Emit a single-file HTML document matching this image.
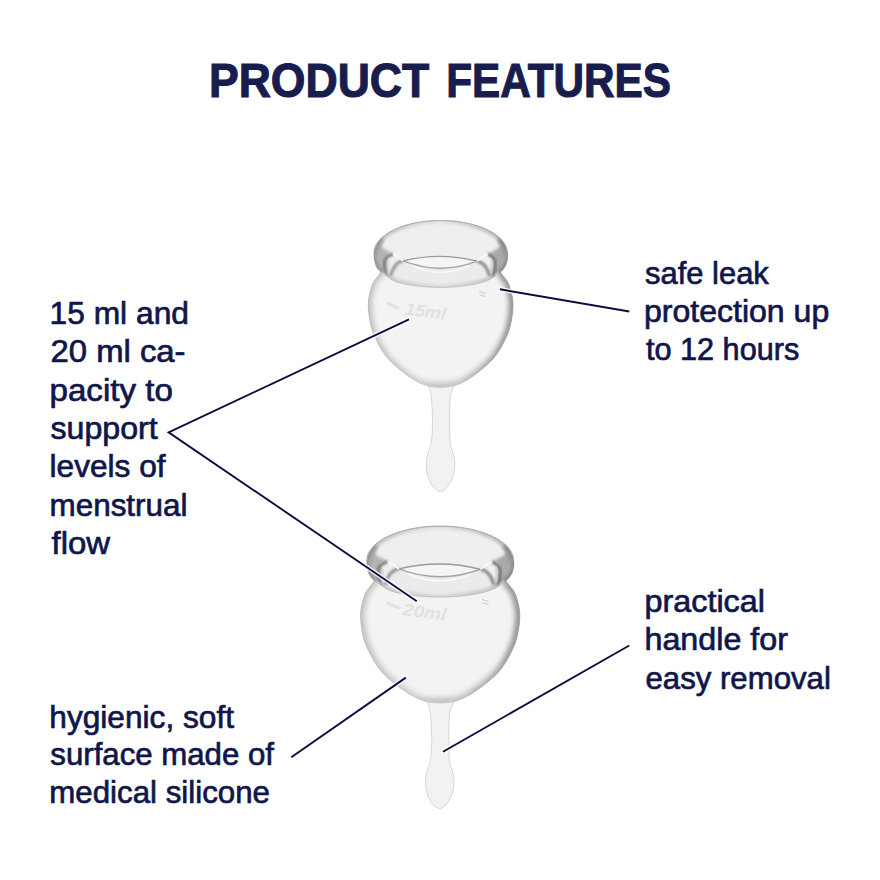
<!DOCTYPE html>
<html><head><meta charset="utf-8"><style>
html,body{margin:0;padding:0;background:#fff;width:880px;height:880px;overflow:hidden}
svg{display:block}
text{font-family:"Liberation Sans",sans-serif;fill:#10164a;stroke:#10164a;stroke-width:0.7px}
</style></head><body>
<svg width="880" height="880" viewBox="0 0 880 880">
<rect width="880" height="880" fill="#fff"/>
<defs>
<filter id="bl05" x="-20%" y="-50%" width="140%" height="200%"><feGaussianBlur stdDeviation="0.5"/></filter>
<filter id="bl07" x="-50%" y="-20%" width="200%" height="140%"><feGaussianBlur stdDeviation="0.7"/></filter>
<filter id="bl1" x="-20%" y="-20%" width="140%" height="140%"><feGaussianBlur stdDeviation="1"/></filter>
<filter id="bl15" x="-50%" y="-20%" width="200%" height="140%"><feGaussianBlur stdDeviation="1.5"/></filter>
<filter id="bl2" x="-20%" y="-20%" width="140%" height="140%"><feGaussianBlur stdDeviation="2"/></filter>
<filter id="bl3" x="-50%" y="-50%" width="200%" height="200%"><feGaussianBlur stdDeviation="3"/></filter>
<linearGradient id="egB" gradientUnits="userSpaceOnUse" x1="368" x2="513" y1="0" y2="0">
<stop offset="0" stop-color="#d2d2d2"/><stop offset="0.45" stop-color="#e2e2e2"/><stop offset="0.8" stop-color="#c8c8c8"/><stop offset="1" stop-color="#a4a4a4"/></linearGradient>
<linearGradient id="egB2" gradientUnits="userSpaceOnUse" x1="368" x2="513" y1="0" y2="0">
<stop offset="0" stop-color="#c6c6c6"/><stop offset="0.5" stop-color="#d6d6d6"/><stop offset="1" stop-color="#9a9a9a"/></linearGradient>
<linearGradient id="egL" gradientUnits="userSpaceOnUse" x1="368" x2="513" y1="0" y2="0">
<stop offset="0" stop-color="#b8b8b8"/><stop offset="0.5" stop-color="#c8c8c8"/><stop offset="1" stop-color="#a0a0a0"/></linearGradient>
<linearGradient id="egR" gradientUnits="userSpaceOnUse" x1="374" x2="507" y1="0" y2="0">
<stop offset="0" stop-color="#bdbdbd"/><stop offset="0.5" stop-color="#e2e2e2"/><stop offset="1" stop-color="#b0b0b0"/></linearGradient>
<clipPath id="c1bc"><path d="M388.65 262.00 C378.48 265.00 382.15 270.67 379.65 274.00 C377.15 277.33 375.15 279.33 373.65 282.00 C372.15 284.67 371.50 287.00 370.65 290.00 C369.80 293.00 368.92 296.67 368.55 300.00 C368.18 303.33 368.23 306.67 368.45 310.00 C368.67 313.33 369.23 316.67 369.85 320.00 C370.47 323.33 371.05 326.67 372.15 330.00 C373.25 333.33 374.85 336.67 376.45 340.00 C378.05 343.33 379.62 346.67 381.75 350.00 C383.88 353.33 386.15 356.67 389.25 360.00 C392.35 363.33 396.95 367.17 400.35 370.00 C403.75 372.83 406.85 375.08 409.65 377.00 C412.45 378.92 414.82 380.25 417.15 381.50 C419.48 382.75 421.40 383.67 423.65 384.50 C425.90 385.33 427.82 386.03 430.65 386.50 C433.48 386.97 437.32 387.30 440.65 387.30 C443.98 387.30 447.82 386.97 450.65 386.50 C453.48 386.03 455.40 385.33 457.65 384.50 C459.90 383.67 461.82 382.75 464.15 381.50 C466.48 380.25 468.85 378.92 471.65 377.00 C474.45 375.08 477.55 372.83 480.95 370.00 C484.35 367.17 488.95 363.33 492.05 360.00 C495.15 356.67 497.42 353.33 499.55 350.00 C501.68 346.67 503.25 343.33 504.85 340.00 C506.45 336.67 508.05 333.33 509.15 330.00 C510.25 326.67 510.83 323.33 511.45 320.00 C512.07 316.67 512.63 313.33 512.85 310.00 C513.07 306.67 513.12 303.33 512.75 300.00 C512.38 296.67 511.50 293.00 510.65 290.00 C509.80 287.00 509.15 284.67 507.65 282.00 C506.15 279.33 504.15 277.33 501.65 274.00 C499.15 270.67 502.82 265.00 492.65 262.00 C482.48 259.00 457.98 256.00 440.65 256.00 C423.32 256.00 398.82 259.00 388.65 262.00 Z"/></clipPath>
<clipPath id="c1rc"><path d="M374.00 253.00 C374.04 250.56 374.34 249.21 375.01 247.36 C375.68 245.50 376.70 243.65 378.02 241.88 C379.34 240.12 381.00 238.38 382.93 236.75 C384.86 235.12 387.11 233.55 389.59 232.11 C392.07 230.67 394.85 229.31 397.81 228.10 C400.76 226.89 403.98 225.79 407.32 224.85 C410.67 223.91 414.23 223.10 417.85 222.46 C421.48 221.82 425.28 221.32 429.08 220.99 C432.88 220.67 436.79 220.50 440.65 220.50 C444.51 220.50 448.42 220.67 452.22 220.99 C456.02 221.32 459.82 221.82 463.45 222.46 C467.07 223.10 470.63 223.91 473.97 224.85 C477.32 225.79 480.54 226.89 483.49 228.10 C486.45 229.31 489.23 230.67 491.71 232.11 C494.19 233.55 496.44 235.12 498.37 236.75 C500.30 238.38 501.96 240.12 503.28 241.88 C504.60 243.65 505.62 245.50 506.29 247.36 C506.96 249.21 507.25 250.39 507.30 253.00 C507.35 255.61 507.23 260.33 506.60 263.00 C505.97 265.67 504.77 267.33 503.50 269.00 C502.23 270.67 501.83 271.00 499.00 273.00 C496.17 275.00 492.17 278.87 486.50 281.00 C480.83 283.13 472.65 284.73 465.00 285.80 C457.35 286.87 448.77 287.40 440.60 287.40 C432.43 287.40 423.52 286.78 416.00 285.80 C408.48 284.82 401.17 283.72 395.50 281.50 C389.83 279.28 385.08 274.75 382.00 272.50 C378.92 270.25 378.20 269.75 377.00 268.00 C375.80 266.25 375.30 264.50 374.80 262.00 C374.30 259.50 373.96 255.44 374.00 253.00 Z"/></clipPath>
<clipPath id="c2bc"><path d="M388.65 262.00 C378.48 265.00 382.15 270.67 379.65 274.00 C377.15 277.33 375.15 279.33 373.65 282.00 C372.15 284.67 371.50 287.00 370.65 290.00 C369.80 293.00 368.92 296.67 368.55 300.00 C368.18 303.33 368.23 306.67 368.45 310.00 C368.67 313.33 369.23 316.67 369.85 320.00 C370.47 323.33 371.05 326.67 372.15 330.00 C373.25 333.33 374.85 336.67 376.45 340.00 C378.05 343.33 379.62 346.67 381.75 350.00 C383.88 353.33 386.15 356.67 389.25 360.00 C392.35 363.33 396.95 367.17 400.35 370.00 C403.75 372.83 406.85 375.08 409.65 377.00 C412.45 378.92 414.82 380.25 417.15 381.50 C419.48 382.75 421.40 383.67 423.65 384.50 C425.90 385.33 427.82 386.03 430.65 386.50 C433.48 386.97 437.32 387.30 440.65 387.30 C443.98 387.30 447.82 386.97 450.65 386.50 C453.48 386.03 455.40 385.33 457.65 384.50 C459.90 383.67 461.82 382.75 464.15 381.50 C466.48 380.25 468.85 378.92 471.65 377.00 C474.45 375.08 477.55 372.83 480.95 370.00 C484.35 367.17 488.95 363.33 492.05 360.00 C495.15 356.67 497.42 353.33 499.55 350.00 C501.68 346.67 503.25 343.33 504.85 340.00 C506.45 336.67 508.05 333.33 509.15 330.00 C510.25 326.67 510.83 323.33 511.45 320.00 C512.07 316.67 512.63 313.33 512.85 310.00 C513.07 306.67 513.12 303.33 512.75 300.00 C512.38 296.67 511.50 293.00 510.65 290.00 C509.80 287.00 509.15 284.67 507.65 282.00 C506.15 279.33 504.15 277.33 501.65 274.00 C499.15 270.67 502.82 265.00 492.65 262.00 C482.48 259.00 457.98 256.00 440.65 256.00 C423.32 256.00 398.82 259.00 388.65 262.00 Z"/></clipPath>
<clipPath id="c2rc"><path d="M374.00 253.00 C374.04 250.56 374.34 249.21 375.01 247.36 C375.68 245.50 376.70 243.65 378.02 241.88 C379.34 240.12 381.00 238.38 382.93 236.75 C384.86 235.12 387.11 233.55 389.59 232.11 C392.07 230.67 394.85 229.31 397.81 228.10 C400.76 226.89 403.98 225.79 407.32 224.85 C410.67 223.91 414.23 223.10 417.85 222.46 C421.48 221.82 425.28 221.32 429.08 220.99 C432.88 220.67 436.79 220.50 440.65 220.50 C444.51 220.50 448.42 220.67 452.22 220.99 C456.02 221.32 459.82 221.82 463.45 222.46 C467.07 223.10 470.63 223.91 473.97 224.85 C477.32 225.79 480.54 226.89 483.49 228.10 C486.45 229.31 489.23 230.67 491.71 232.11 C494.19 233.55 496.44 235.12 498.37 236.75 C500.30 238.38 501.96 240.12 503.28 241.88 C504.60 243.65 505.62 245.50 506.29 247.36 C506.96 249.21 507.25 250.39 507.30 253.00 C507.35 255.61 507.23 260.33 506.60 263.00 C505.97 265.67 504.77 267.33 503.50 269.00 C502.23 270.67 501.83 271.00 499.00 273.00 C496.17 275.00 492.17 278.87 486.50 281.00 C480.83 283.13 472.65 284.73 465.00 285.80 C457.35 286.87 448.77 287.40 440.60 287.40 C432.43 287.40 423.52 286.78 416.00 285.80 C408.48 284.82 401.17 283.72 395.50 281.50 C389.83 279.28 385.08 274.75 382.00 272.50 C378.92 270.25 378.20 269.75 377.00 268.00 C375.80 266.25 375.30 264.50 374.80 262.00 C374.30 259.50 373.96 255.44 374.00 253.00 Z"/></clipPath>
</defs>
<g>
<g transform="">
<path d="M422.00 376.00 C419.83 378.58 426.58 382.83 428.00 385.50 C429.42 388.17 429.90 389.58 430.50 392.00 C431.10 394.42 431.28 396.17 431.60 400.00 C431.92 403.83 432.27 410.00 432.40 415.00 C432.53 420.00 432.60 425.33 432.40 430.00 C432.20 434.67 431.77 439.67 431.20 443.00 C430.63 446.33 429.72 447.50 429.00 450.00 C428.28 452.50 427.33 455.33 426.90 458.00 C426.47 460.67 426.28 463.17 426.40 466.00 C426.52 468.83 426.87 472.17 427.60 475.00 C428.33 477.83 429.48 480.67 430.80 483.00 C432.12 485.33 433.88 487.62 435.50 489.00 C437.12 490.38 438.83 491.30 440.50 491.30 C442.17 491.30 443.92 490.38 445.50 489.00 C447.08 487.62 448.68 485.33 450.00 483.00 C451.32 480.67 452.62 477.83 453.40 475.00 C454.18 472.17 454.57 468.83 454.70 466.00 C454.83 463.17 454.65 460.67 454.20 458.00 C453.75 455.33 452.67 452.50 452.00 450.00 C451.33 447.50 450.58 446.33 450.20 443.00 C449.82 439.67 449.78 434.67 449.70 430.00 C449.62 425.33 449.65 420.00 449.70 415.00 C449.75 410.00 449.70 403.83 450.00 400.00 C450.30 396.17 450.78 394.42 451.50 392.00 C452.22 389.58 452.88 388.17 454.30 385.50 C455.72 382.83 462.22 378.58 460.00 376.00 C457.78 373.42 447.33 370.00 441.00 370.00 C434.67 370.00 424.17 373.42 422.00 376.00 Z" fill="#f2f2f2"/>
<path d="M422.00 376.00 C419.83 378.58 426.58 382.83 428.00 385.50 C429.42 388.17 429.90 389.58 430.50 392.00 C431.10 394.42 431.28 396.17 431.60 400.00 C431.92 403.83 432.27 410.00 432.40 415.00 C432.53 420.00 432.60 425.33 432.40 430.00 C432.20 434.67 431.77 439.67 431.20 443.00 C430.63 446.33 429.72 447.50 429.00 450.00 C428.28 452.50 427.33 455.33 426.90 458.00 C426.47 460.67 426.28 463.17 426.40 466.00 C426.52 468.83 426.87 472.17 427.60 475.00 C428.33 477.83 429.48 480.67 430.80 483.00 C432.12 485.33 433.88 487.62 435.50 489.00 C437.12 490.38 438.83 491.30 440.50 491.30 C442.17 491.30 443.92 490.38 445.50 489.00 C447.08 487.62 448.68 485.33 450.00 483.00 C451.32 480.67 452.62 477.83 453.40 475.00 C454.18 472.17 454.57 468.83 454.70 466.00 C454.83 463.17 454.65 460.67 454.20 458.00 C453.75 455.33 452.67 452.50 452.00 450.00 C451.33 447.50 450.58 446.33 450.20 443.00 C449.82 439.67 449.78 434.67 449.70 430.00 C449.62 425.33 449.65 420.00 449.70 415.00 C449.75 410.00 449.70 403.83 450.00 400.00 C450.30 396.17 450.78 394.42 451.50 392.00 C452.22 389.58 452.88 388.17 454.30 385.50 C455.72 382.83 462.22 378.58 460.00 376.00 C457.78 373.42 447.33 370.00 441.00 370.00 C434.67 370.00 424.17 373.42 422.00 376.00 Z" fill="none" stroke="#d2d2d2" stroke-width="0.9"/>
</g>
<g transform="">
<path d="M388.65 262.00 C378.48 265.00 382.15 270.67 379.65 274.00 C377.15 277.33 375.15 279.33 373.65 282.00 C372.15 284.67 371.50 287.00 370.65 290.00 C369.80 293.00 368.92 296.67 368.55 300.00 C368.18 303.33 368.23 306.67 368.45 310.00 C368.67 313.33 369.23 316.67 369.85 320.00 C370.47 323.33 371.05 326.67 372.15 330.00 C373.25 333.33 374.85 336.67 376.45 340.00 C378.05 343.33 379.62 346.67 381.75 350.00 C383.88 353.33 386.15 356.67 389.25 360.00 C392.35 363.33 396.95 367.17 400.35 370.00 C403.75 372.83 406.85 375.08 409.65 377.00 C412.45 378.92 414.82 380.25 417.15 381.50 C419.48 382.75 421.40 383.67 423.65 384.50 C425.90 385.33 427.82 386.03 430.65 386.50 C433.48 386.97 437.32 387.30 440.65 387.30 C443.98 387.30 447.82 386.97 450.65 386.50 C453.48 386.03 455.40 385.33 457.65 384.50 C459.90 383.67 461.82 382.75 464.15 381.50 C466.48 380.25 468.85 378.92 471.65 377.00 C474.45 375.08 477.55 372.83 480.95 370.00 C484.35 367.17 488.95 363.33 492.05 360.00 C495.15 356.67 497.42 353.33 499.55 350.00 C501.68 346.67 503.25 343.33 504.85 340.00 C506.45 336.67 508.05 333.33 509.15 330.00 C510.25 326.67 510.83 323.33 511.45 320.00 C512.07 316.67 512.63 313.33 512.85 310.00 C513.07 306.67 513.12 303.33 512.75 300.00 C512.38 296.67 511.50 293.00 510.65 290.00 C509.80 287.00 509.15 284.67 507.65 282.00 C506.15 279.33 504.15 277.33 501.65 274.00 C499.15 270.67 502.82 265.00 492.65 262.00 C482.48 259.00 457.98 256.00 440.65 256.00 C423.32 256.00 398.82 259.00 388.65 262.00 Z" fill="#f3f3f3"/>
<g clip-path="url(#c1bc)">
<path d="M388.65 262.00 C378.48 265.00 382.15 270.67 379.65 274.00 C377.15 277.33 375.15 279.33 373.65 282.00 C372.15 284.67 371.50 287.00 370.65 290.00 C369.80 293.00 368.92 296.67 368.55 300.00 C368.18 303.33 368.23 306.67 368.45 310.00 C368.67 313.33 369.23 316.67 369.85 320.00 C370.47 323.33 371.05 326.67 372.15 330.00 C373.25 333.33 374.85 336.67 376.45 340.00 C378.05 343.33 379.62 346.67 381.75 350.00 C383.88 353.33 386.15 356.67 389.25 360.00 C392.35 363.33 396.95 367.17 400.35 370.00 C403.75 372.83 406.85 375.08 409.65 377.00 C412.45 378.92 414.82 380.25 417.15 381.50 C419.48 382.75 421.40 383.67 423.65 384.50 C425.90 385.33 427.82 386.03 430.65 386.50 C433.48 386.97 437.32 387.30 440.65 387.30 C443.98 387.30 447.82 386.97 450.65 386.50 C453.48 386.03 455.40 385.33 457.65 384.50 C459.90 383.67 461.82 382.75 464.15 381.50 C466.48 380.25 468.85 378.92 471.65 377.00 C474.45 375.08 477.55 372.83 480.95 370.00 C484.35 367.17 488.95 363.33 492.05 360.00 C495.15 356.67 497.42 353.33 499.55 350.00 C501.68 346.67 503.25 343.33 504.85 340.00 C506.45 336.67 508.05 333.33 509.15 330.00 C510.25 326.67 510.83 323.33 511.45 320.00 C512.07 316.67 512.63 313.33 512.85 310.00 C513.07 306.67 513.12 303.33 512.75 300.00 C512.38 296.67 511.50 293.00 510.65 290.00 C509.80 287.00 509.15 284.67 507.65 282.00 C506.15 279.33 504.15 277.33 501.65 274.00 C499.15 270.67 502.82 265.00 492.65 262.00 C482.48 259.00 457.98 256.00 440.65 256.00 C423.32 256.00 398.82 259.00 388.65 262.00 Z" fill="none" stroke="url(#egB)" stroke-width="10" filter="url(#bl2)"/>
<path d="M388.65 262.00 C378.48 265.00 382.15 270.67 379.65 274.00 C377.15 277.33 375.15 279.33 373.65 282.00 C372.15 284.67 371.50 287.00 370.65 290.00 C369.80 293.00 368.92 296.67 368.55 300.00 C368.18 303.33 368.23 306.67 368.45 310.00 C368.67 313.33 369.23 316.67 369.85 320.00 C370.47 323.33 371.05 326.67 372.15 330.00 C373.25 333.33 374.85 336.67 376.45 340.00 C378.05 343.33 379.62 346.67 381.75 350.00 C383.88 353.33 386.15 356.67 389.25 360.00 C392.35 363.33 396.95 367.17 400.35 370.00 C403.75 372.83 406.85 375.08 409.65 377.00 C412.45 378.92 414.82 380.25 417.15 381.50 C419.48 382.75 421.40 383.67 423.65 384.50 C425.90 385.33 427.82 386.03 430.65 386.50 C433.48 386.97 437.32 387.30 440.65 387.30 C443.98 387.30 447.82 386.97 450.65 386.50 C453.48 386.03 455.40 385.33 457.65 384.50 C459.90 383.67 461.82 382.75 464.15 381.50 C466.48 380.25 468.85 378.92 471.65 377.00 C474.45 375.08 477.55 372.83 480.95 370.00 C484.35 367.17 488.95 363.33 492.05 360.00 C495.15 356.67 497.42 353.33 499.55 350.00 C501.68 346.67 503.25 343.33 504.85 340.00 C506.45 336.67 508.05 333.33 509.15 330.00 C510.25 326.67 510.83 323.33 511.45 320.00 C512.07 316.67 512.63 313.33 512.85 310.00 C513.07 306.67 513.12 303.33 512.75 300.00 C512.38 296.67 511.50 293.00 510.65 290.00 C509.80 287.00 509.15 284.67 507.65 282.00 C506.15 279.33 504.15 277.33 501.65 274.00 C499.15 270.67 502.82 265.00 492.65 262.00 C482.48 259.00 457.98 256.00 440.65 256.00 C423.32 256.00 398.82 259.00 388.65 262.00 Z" fill="none" stroke="url(#egB2)" stroke-width="4" filter="url(#bl1)"/>
<ellipse cx="440.65" cy="392" rx="30" ry="9" fill="#c4c4c4" filter="url(#bl3)"/>
</g>
<path d="M388.65 262.00 C378.48 265.00 382.15 270.67 379.65 274.00 C377.15 277.33 375.15 279.33 373.65 282.00 C372.15 284.67 371.50 287.00 370.65 290.00 C369.80 293.00 368.92 296.67 368.55 300.00 C368.18 303.33 368.23 306.67 368.45 310.00 C368.67 313.33 369.23 316.67 369.85 320.00 C370.47 323.33 371.05 326.67 372.15 330.00 C373.25 333.33 374.85 336.67 376.45 340.00 C378.05 343.33 379.62 346.67 381.75 350.00 C383.88 353.33 386.15 356.67 389.25 360.00 C392.35 363.33 396.95 367.17 400.35 370.00 C403.75 372.83 406.85 375.08 409.65 377.00 C412.45 378.92 414.82 380.25 417.15 381.50 C419.48 382.75 421.40 383.67 423.65 384.50 C425.90 385.33 427.82 386.03 430.65 386.50 C433.48 386.97 437.32 387.30 440.65 387.30 C443.98 387.30 447.82 386.97 450.65 386.50 C453.48 386.03 455.40 385.33 457.65 384.50 C459.90 383.67 461.82 382.75 464.15 381.50 C466.48 380.25 468.85 378.92 471.65 377.00 C474.45 375.08 477.55 372.83 480.95 370.00 C484.35 367.17 488.95 363.33 492.05 360.00 C495.15 356.67 497.42 353.33 499.55 350.00 C501.68 346.67 503.25 343.33 504.85 340.00 C506.45 336.67 508.05 333.33 509.15 330.00 C510.25 326.67 510.83 323.33 511.45 320.00 C512.07 316.67 512.63 313.33 512.85 310.00 C513.07 306.67 513.12 303.33 512.75 300.00 C512.38 296.67 511.50 293.00 510.65 290.00 C509.80 287.00 509.15 284.67 507.65 282.00 C506.15 279.33 504.15 277.33 501.65 274.00 C499.15 270.67 502.82 265.00 492.65 262.00 C482.48 259.00 457.98 256.00 440.65 256.00 C423.32 256.00 398.82 259.00 388.65 262.00 Z" fill="none" stroke="url(#egL)" stroke-width="0.8"/>
<path d="M374.00 253.00 C374.04 250.56 374.34 249.21 375.01 247.36 C375.68 245.50 376.70 243.65 378.02 241.88 C379.34 240.12 381.00 238.38 382.93 236.75 C384.86 235.12 387.11 233.55 389.59 232.11 C392.07 230.67 394.85 229.31 397.81 228.10 C400.76 226.89 403.98 225.79 407.32 224.85 C410.67 223.91 414.23 223.10 417.85 222.46 C421.48 221.82 425.28 221.32 429.08 220.99 C432.88 220.67 436.79 220.50 440.65 220.50 C444.51 220.50 448.42 220.67 452.22 220.99 C456.02 221.32 459.82 221.82 463.45 222.46 C467.07 223.10 470.63 223.91 473.97 224.85 C477.32 225.79 480.54 226.89 483.49 228.10 C486.45 229.31 489.23 230.67 491.71 232.11 C494.19 233.55 496.44 235.12 498.37 236.75 C500.30 238.38 501.96 240.12 503.28 241.88 C504.60 243.65 505.62 245.50 506.29 247.36 C506.96 249.21 507.25 250.39 507.30 253.00 C507.35 255.61 507.23 260.33 506.60 263.00 C505.97 265.67 504.77 267.33 503.50 269.00 C502.23 270.67 501.83 271.00 499.00 273.00 C496.17 275.00 492.17 278.87 486.50 281.00 C480.83 283.13 472.65 284.73 465.00 285.80 C457.35 286.87 448.77 287.40 440.60 287.40 C432.43 287.40 423.52 286.78 416.00 285.80 C408.48 284.82 401.17 283.72 395.50 281.50 C389.83 279.28 385.08 274.75 382.00 272.50 C378.92 270.25 378.20 269.75 377.00 268.00 C375.80 266.25 375.30 264.50 374.80 262.00 C374.30 259.50 373.96 255.44 374.00 253.00 Z" fill="#efefef"/>
<g clip-path="url(#c1rc)">
<path d="M403.20 260.80 C395.43 260.42 396.87 264.22 394.00 266.00 C391.13 267.78 387.83 270.17 386.00 271.50 C384.17 272.83 381.67 272.67 383.00 274.00 C384.33 275.33 388.50 277.58 394.00 279.50 C399.50 281.42 408.23 284.18 416.00 285.50 C423.77 286.82 432.43 287.40 440.60 287.40 C448.77 287.40 457.27 286.82 465.00 285.50 C472.73 284.18 481.42 281.42 487.00 279.50 C492.58 277.58 497.17 275.33 498.50 274.00 C499.83 272.67 496.92 272.83 495.00 271.50 C493.08 270.17 490.00 267.72 487.00 266.00 C484.00 264.28 484.73 260.82 477.00 261.20 C469.27 261.58 452.95 268.37 440.65 268.30 C428.35 268.23 410.97 261.18 403.20 260.80 Z" fill="#ebebeb"/>
<path d="M374.00 253.00 C374.04 250.56 374.34 249.21 375.01 247.36 C375.68 245.50 376.70 243.65 378.02 241.88 C379.34 240.12 381.00 238.38 382.93 236.75 C384.86 235.12 387.11 233.55 389.59 232.11 C392.07 230.67 394.85 229.31 397.81 228.10 C400.76 226.89 403.98 225.79 407.32 224.85 C410.67 223.91 414.23 223.10 417.85 222.46 C421.48 221.82 425.28 221.32 429.08 220.99 C432.88 220.67 436.79 220.50 440.65 220.50 C444.51 220.50 448.42 220.67 452.22 220.99 C456.02 221.32 459.82 221.82 463.45 222.46 C467.07 223.10 470.63 223.91 473.97 224.85 C477.32 225.79 480.54 226.89 483.49 228.10 C486.45 229.31 489.23 230.67 491.71 232.11 C494.19 233.55 496.44 235.12 498.37 236.75 C500.30 238.38 501.96 240.12 503.28 241.88 C504.60 243.65 505.62 245.50 506.29 247.36 C506.96 249.21 507.25 250.39 507.30 253.00 C507.35 255.61 507.23 260.33 506.60 263.00 C505.97 265.67 504.77 267.33 503.50 269.00 C502.23 270.67 501.83 271.00 499.00 273.00 C496.17 275.00 492.17 278.87 486.50 281.00 C480.83 283.13 472.65 284.73 465.00 285.80 C457.35 286.87 448.77 287.40 440.60 287.40 C432.43 287.40 423.52 286.78 416.00 285.80 C408.48 284.82 401.17 283.72 395.50 281.50 C389.83 279.28 385.08 274.75 382.00 272.50 C378.92 270.25 378.20 269.75 377.00 268.00 C375.80 266.25 375.30 264.50 374.80 262.00 C374.30 259.50 373.96 255.44 374.00 253.00 Z" fill="none" stroke="url(#egR)" stroke-width="6" filter="url(#bl15)"/>
<path d="M374 250 C378 262 381 270 388 279 L387 262 C386 257 388 255 392 253 C385 250 380 247 376 240 Z" fill="#b4b4b4" filter="url(#bl15)"/>
<path d="M507.29999999999995 250 C503.29999999999995 262 500.29999999999995 270 493.29999999999995 279 L494.29999999999995 262 C495.29999999999995 257 493.29999999999995 255 489.29999999999995 253 C496.29999999999995 250 501.29999999999995 247 505.29999999999995 240 Z" fill="#a8a8a8" filter="url(#bl15)"/>
<path d="M381.50 238.00 C380.35 240.63 375.43 249.47 374.60 253.80 C373.77 258.13 375.27 260.88 376.50 264.00 C377.73 267.12 381.08 271.08 382.00 272.50" fill="none" stroke="#a2a2a2" stroke-width="7" filter="url(#bl15)"/>
<path d="M499.80 238.00 C501.03 240.63 506.25 249.47 507.20 253.80 C508.15 258.13 506.87 260.80 505.50 264.00 C504.13 267.20 500.08 271.50 499.00 273.00" fill="none" stroke="#949494" stroke-width="7" filter="url(#bl15)"/>
<path d="M393 253.8 C387.5 256 384.3 259 384.3 263 C384.3 268 385 273 386.8 278" fill="none" stroke="#7e7e7e" stroke-width="3" filter="url(#bl1)"/>
<path d="M487.8 254 C492.5 256 495.3 259 495.3 263.5 C495.3 268 494.5 273 492.7 277.5" fill="none" stroke="#747474" stroke-width="3" filter="url(#bl1)"/>
<path d="M388.8 258 C388.4 264 388.5 269 389 274" fill="none" stroke="#dcdcdc" stroke-width="2" filter="url(#bl05)"/>
<path d="M491.6 258.5 C492 264 491.8 269 491 274" fill="none" stroke="#d4d4d4" stroke-width="2" filter="url(#bl05)"/>
<path d="M403.2 260.8 C397 261.5 393.5 266 390.5 276" fill="none" stroke="#989898" stroke-width="3" filter="url(#bl1)"/>
<path d="M477 261.2 C483.5 262 487 266.5 489.5 276" fill="none" stroke="#8c8c8c" stroke-width="3" filter="url(#bl1)"/>
<path d="M393 253.8 C397 256 400 258 403.2 260.8" fill="none" stroke="#fafafa" stroke-width="1.6" filter="url(#bl05)"/>
<path d="M487.8 254 C484 256 480.5 258.5 477 261.2" fill="none" stroke="#fafafa" stroke-width="1.6" filter="url(#bl05)"/>
<path d="M403.2 260.8 Q440.65 251.60 477 261.2 Q440.65 275.40 403.2 260.8 Z" fill="#f5f5f5"/>
<path d="M403.2 260.8 Q440.65 251.60 477 261.2" fill="none" stroke="#9a9a9a" stroke-width="1.3" filter="url(#bl05)"/>
<path d="M403.2 260.8 Q440.65 275.40 477 261.2" fill="none" stroke="#a6a6a6" stroke-width="1.4" filter="url(#bl05)"/>
<path d="M411.2 265.3 Q440.65 278.90 469 265.7" fill="none" stroke="#f9f9f9" stroke-width="1.6" filter="url(#bl05)"/>
<path d="M382.00 272.50 C384.25 274.00 389.83 279.28 395.50 281.50 C401.17 283.72 408.48 284.82 416.00 285.80 C423.52 286.78 432.43 287.40 440.60 287.40 C448.77 287.40 457.35 286.87 465.00 285.80 C472.65 284.73 480.83 283.13 486.50 281.00 C492.17 278.87 496.92 274.33 499.00 273.00" fill="none" stroke="#d4d4d4" stroke-width="2" filter="url(#bl1)"/>
</g>
<path d="M374.00 253.00 C374.04 250.56 374.34 249.21 375.01 247.36 C375.68 245.50 376.70 243.65 378.02 241.88 C379.34 240.12 381.00 238.38 382.93 236.75 C384.86 235.12 387.11 233.55 389.59 232.11 C392.07 230.67 394.85 229.31 397.81 228.10 C400.76 226.89 403.98 225.79 407.32 224.85 C410.67 223.91 414.23 223.10 417.85 222.46 C421.48 221.82 425.28 221.32 429.08 220.99 C432.88 220.67 436.79 220.50 440.65 220.50 C444.51 220.50 448.42 220.67 452.22 220.99 C456.02 221.32 459.82 221.82 463.45 222.46 C467.07 223.10 470.63 223.91 473.97 224.85 C477.32 225.79 480.54 226.89 483.49 228.10 C486.45 229.31 489.23 230.67 491.71 232.11 C494.19 233.55 496.44 235.12 498.37 236.75 C500.30 238.38 501.96 240.12 503.28 241.88 C504.60 243.65 505.62 245.50 506.29 247.36 C506.96 249.21 507.25 250.39 507.30 253.00 C507.35 255.61 507.23 260.33 506.60 263.00 C505.97 265.67 504.77 267.33 503.50 269.00 C502.23 270.67 501.83 271.00 499.00 273.00 C496.17 275.00 492.17 278.87 486.50 281.00 C480.83 283.13 472.65 284.73 465.00 285.80 C457.35 286.87 448.77 287.40 440.60 287.40 C432.43 287.40 423.52 286.78 416.00 285.80 C408.48 284.82 401.17 283.72 395.50 281.50 C389.83 279.28 385.08 274.75 382.00 272.50 C378.92 270.25 378.20 269.75 377.00 268.00 C375.80 266.25 375.30 264.50 374.80 262.00 C374.30 259.50 373.96 255.44 374.00 253.00 Z" fill="none" stroke="#b4b4b4" stroke-width="0.7"/>
<path d="M381.50 238.00 C380.35 240.63 375.43 249.47 374.60 253.80 C373.77 258.13 375.27 260.88 376.50 264.00 C377.73 267.12 381.08 271.08 382.00 272.50" fill="none" stroke="#8c8c8c" stroke-width="0.9"/>
<path d="M499.80 238.00 C501.03 240.63 506.25 249.47 507.20 253.80 C508.15 258.13 506.87 260.80 505.50 264.00 C504.13 267.20 500.08 271.50 499.00 273.00" fill="none" stroke="#858585" stroke-width="0.9"/>
<path d="M374.00 253.00 C374.17 252.06 374.34 249.21 375.01 247.36 C375.68 245.50 376.70 243.65 378.02 241.88 C379.34 240.12 381.00 238.38 382.93 236.75 C384.86 235.12 387.11 233.55 389.59 232.11 C392.07 230.67 394.85 229.31 397.81 228.10 C400.76 226.89 403.98 225.79 407.32 224.85 C410.67 223.91 414.23 223.10 417.85 222.46 C421.48 221.82 425.28 221.32 429.08 220.99 C432.88 220.67 436.79 220.50 440.65 220.50 C444.51 220.50 448.42 220.67 452.22 220.99 C456.02 221.32 459.82 221.82 463.45 222.46 C467.07 223.10 470.63 223.91 473.97 224.85 C477.32 225.79 480.54 226.89 483.49 228.10 C486.45 229.31 489.23 230.67 491.71 232.11 C494.19 233.55 496.44 235.12 498.37 236.75 C500.30 238.38 501.96 240.12 503.28 241.88 C504.60 243.65 505.62 245.50 506.29 247.36 C506.96 249.21 507.13 252.06 507.30 253.00" fill="none" stroke="#acacac" stroke-width="0.9"/>
</g>
<text x="404.5" y="314.5" font-size="17" font-style="italic" font-weight="bold" style="fill:#e1e1e1;stroke:none" transform="rotate(7.5 404.5 314.5)" textLength="41" lengthAdjust="spacingAndGlyphs">15ml</text>
<path d="M388 303.5 L397.5 307.8" stroke="#e2e2e2" stroke-width="3.5" stroke-linecap="round"/>
<path d="M479.2 291.3 l5.8 2 M479.59999999999997 294.7 l5.4 1.7" stroke="#c6c6c6" stroke-width="0.9" stroke-linecap="round"/>
</g>
<g>
<g transform="translate(-0.8 317.2)">
<path d="M422.00 376.00 C419.83 378.58 426.58 382.83 428.00 385.50 C429.42 388.17 429.90 389.58 430.50 392.00 C431.10 394.42 431.28 396.17 431.60 400.00 C431.92 403.83 432.27 410.00 432.40 415.00 C432.53 420.00 432.60 425.33 432.40 430.00 C432.20 434.67 431.77 439.67 431.20 443.00 C430.63 446.33 429.72 447.50 429.00 450.00 C428.28 452.50 427.33 455.33 426.90 458.00 C426.47 460.67 426.28 463.17 426.40 466.00 C426.52 468.83 426.87 472.17 427.60 475.00 C428.33 477.83 429.48 480.67 430.80 483.00 C432.12 485.33 433.88 487.62 435.50 489.00 C437.12 490.38 438.83 491.30 440.50 491.30 C442.17 491.30 443.92 490.38 445.50 489.00 C447.08 487.62 448.68 485.33 450.00 483.00 C451.32 480.67 452.62 477.83 453.40 475.00 C454.18 472.17 454.57 468.83 454.70 466.00 C454.83 463.17 454.65 460.67 454.20 458.00 C453.75 455.33 452.67 452.50 452.00 450.00 C451.33 447.50 450.58 446.33 450.20 443.00 C449.82 439.67 449.78 434.67 449.70 430.00 C449.62 425.33 449.65 420.00 449.70 415.00 C449.75 410.00 449.70 403.83 450.00 400.00 C450.30 396.17 450.78 394.42 451.50 392.00 C452.22 389.58 452.88 388.17 454.30 385.50 C455.72 382.83 462.22 378.58 460.00 376.00 C457.78 373.42 447.33 370.00 441.00 370.00 C434.67 370.00 424.17 373.42 422.00 376.00 Z" fill="#f2f2f2"/>
<path d="M422.00 376.00 C419.83 378.58 426.58 382.83 428.00 385.50 C429.42 388.17 429.90 389.58 430.50 392.00 C431.10 394.42 431.28 396.17 431.60 400.00 C431.92 403.83 432.27 410.00 432.40 415.00 C432.53 420.00 432.60 425.33 432.40 430.00 C432.20 434.67 431.77 439.67 431.20 443.00 C430.63 446.33 429.72 447.50 429.00 450.00 C428.28 452.50 427.33 455.33 426.90 458.00 C426.47 460.67 426.28 463.17 426.40 466.00 C426.52 468.83 426.87 472.17 427.60 475.00 C428.33 477.83 429.48 480.67 430.80 483.00 C432.12 485.33 433.88 487.62 435.50 489.00 C437.12 490.38 438.83 491.30 440.50 491.30 C442.17 491.30 443.92 490.38 445.50 489.00 C447.08 487.62 448.68 485.33 450.00 483.00 C451.32 480.67 452.62 477.83 453.40 475.00 C454.18 472.17 454.57 468.83 454.70 466.00 C454.83 463.17 454.65 460.67 454.20 458.00 C453.75 455.33 452.67 452.50 452.00 450.00 C451.33 447.50 450.58 446.33 450.20 443.00 C449.82 439.67 449.78 434.67 449.70 430.00 C449.62 425.33 449.65 420.00 449.70 415.00 C449.75 410.00 449.70 403.83 450.00 400.00 C450.30 396.17 450.78 394.42 451.50 392.00 C452.22 389.58 452.88 388.17 454.30 385.50 C455.72 382.83 462.22 378.58 460.00 376.00 C457.78 373.42 447.33 370.00 441.00 370.00 C434.67 370.00 424.17 373.42 422.00 376.00 Z" fill="none" stroke="#d2d2d2" stroke-width="0.9"/>
</g>
<g transform="translate(440.2 526.1) scale(1.10 1.06) translate(-440.65 -220.5)">
<path d="M388.65 262.00 C378.48 265.00 382.15 270.67 379.65 274.00 C377.15 277.33 375.15 279.33 373.65 282.00 C372.15 284.67 371.50 287.00 370.65 290.00 C369.80 293.00 368.92 296.67 368.55 300.00 C368.18 303.33 368.23 306.67 368.45 310.00 C368.67 313.33 369.23 316.67 369.85 320.00 C370.47 323.33 371.05 326.67 372.15 330.00 C373.25 333.33 374.85 336.67 376.45 340.00 C378.05 343.33 379.62 346.67 381.75 350.00 C383.88 353.33 386.15 356.67 389.25 360.00 C392.35 363.33 396.95 367.17 400.35 370.00 C403.75 372.83 406.85 375.08 409.65 377.00 C412.45 378.92 414.82 380.25 417.15 381.50 C419.48 382.75 421.40 383.67 423.65 384.50 C425.90 385.33 427.82 386.03 430.65 386.50 C433.48 386.97 437.32 387.30 440.65 387.30 C443.98 387.30 447.82 386.97 450.65 386.50 C453.48 386.03 455.40 385.33 457.65 384.50 C459.90 383.67 461.82 382.75 464.15 381.50 C466.48 380.25 468.85 378.92 471.65 377.00 C474.45 375.08 477.55 372.83 480.95 370.00 C484.35 367.17 488.95 363.33 492.05 360.00 C495.15 356.67 497.42 353.33 499.55 350.00 C501.68 346.67 503.25 343.33 504.85 340.00 C506.45 336.67 508.05 333.33 509.15 330.00 C510.25 326.67 510.83 323.33 511.45 320.00 C512.07 316.67 512.63 313.33 512.85 310.00 C513.07 306.67 513.12 303.33 512.75 300.00 C512.38 296.67 511.50 293.00 510.65 290.00 C509.80 287.00 509.15 284.67 507.65 282.00 C506.15 279.33 504.15 277.33 501.65 274.00 C499.15 270.67 502.82 265.00 492.65 262.00 C482.48 259.00 457.98 256.00 440.65 256.00 C423.32 256.00 398.82 259.00 388.65 262.00 Z" fill="#f3f3f3"/>
<g clip-path="url(#c2bc)">
<path d="M388.65 262.00 C378.48 265.00 382.15 270.67 379.65 274.00 C377.15 277.33 375.15 279.33 373.65 282.00 C372.15 284.67 371.50 287.00 370.65 290.00 C369.80 293.00 368.92 296.67 368.55 300.00 C368.18 303.33 368.23 306.67 368.45 310.00 C368.67 313.33 369.23 316.67 369.85 320.00 C370.47 323.33 371.05 326.67 372.15 330.00 C373.25 333.33 374.85 336.67 376.45 340.00 C378.05 343.33 379.62 346.67 381.75 350.00 C383.88 353.33 386.15 356.67 389.25 360.00 C392.35 363.33 396.95 367.17 400.35 370.00 C403.75 372.83 406.85 375.08 409.65 377.00 C412.45 378.92 414.82 380.25 417.15 381.50 C419.48 382.75 421.40 383.67 423.65 384.50 C425.90 385.33 427.82 386.03 430.65 386.50 C433.48 386.97 437.32 387.30 440.65 387.30 C443.98 387.30 447.82 386.97 450.65 386.50 C453.48 386.03 455.40 385.33 457.65 384.50 C459.90 383.67 461.82 382.75 464.15 381.50 C466.48 380.25 468.85 378.92 471.65 377.00 C474.45 375.08 477.55 372.83 480.95 370.00 C484.35 367.17 488.95 363.33 492.05 360.00 C495.15 356.67 497.42 353.33 499.55 350.00 C501.68 346.67 503.25 343.33 504.85 340.00 C506.45 336.67 508.05 333.33 509.15 330.00 C510.25 326.67 510.83 323.33 511.45 320.00 C512.07 316.67 512.63 313.33 512.85 310.00 C513.07 306.67 513.12 303.33 512.75 300.00 C512.38 296.67 511.50 293.00 510.65 290.00 C509.80 287.00 509.15 284.67 507.65 282.00 C506.15 279.33 504.15 277.33 501.65 274.00 C499.15 270.67 502.82 265.00 492.65 262.00 C482.48 259.00 457.98 256.00 440.65 256.00 C423.32 256.00 398.82 259.00 388.65 262.00 Z" fill="none" stroke="url(#egB)" stroke-width="10" filter="url(#bl2)"/>
<path d="M388.65 262.00 C378.48 265.00 382.15 270.67 379.65 274.00 C377.15 277.33 375.15 279.33 373.65 282.00 C372.15 284.67 371.50 287.00 370.65 290.00 C369.80 293.00 368.92 296.67 368.55 300.00 C368.18 303.33 368.23 306.67 368.45 310.00 C368.67 313.33 369.23 316.67 369.85 320.00 C370.47 323.33 371.05 326.67 372.15 330.00 C373.25 333.33 374.85 336.67 376.45 340.00 C378.05 343.33 379.62 346.67 381.75 350.00 C383.88 353.33 386.15 356.67 389.25 360.00 C392.35 363.33 396.95 367.17 400.35 370.00 C403.75 372.83 406.85 375.08 409.65 377.00 C412.45 378.92 414.82 380.25 417.15 381.50 C419.48 382.75 421.40 383.67 423.65 384.50 C425.90 385.33 427.82 386.03 430.65 386.50 C433.48 386.97 437.32 387.30 440.65 387.30 C443.98 387.30 447.82 386.97 450.65 386.50 C453.48 386.03 455.40 385.33 457.65 384.50 C459.90 383.67 461.82 382.75 464.15 381.50 C466.48 380.25 468.85 378.92 471.65 377.00 C474.45 375.08 477.55 372.83 480.95 370.00 C484.35 367.17 488.95 363.33 492.05 360.00 C495.15 356.67 497.42 353.33 499.55 350.00 C501.68 346.67 503.25 343.33 504.85 340.00 C506.45 336.67 508.05 333.33 509.15 330.00 C510.25 326.67 510.83 323.33 511.45 320.00 C512.07 316.67 512.63 313.33 512.85 310.00 C513.07 306.67 513.12 303.33 512.75 300.00 C512.38 296.67 511.50 293.00 510.65 290.00 C509.80 287.00 509.15 284.67 507.65 282.00 C506.15 279.33 504.15 277.33 501.65 274.00 C499.15 270.67 502.82 265.00 492.65 262.00 C482.48 259.00 457.98 256.00 440.65 256.00 C423.32 256.00 398.82 259.00 388.65 262.00 Z" fill="none" stroke="url(#egB2)" stroke-width="4" filter="url(#bl1)"/>
<ellipse cx="440.65" cy="392" rx="30" ry="9" fill="#c4c4c4" filter="url(#bl3)"/>
</g>
<path d="M388.65 262.00 C378.48 265.00 382.15 270.67 379.65 274.00 C377.15 277.33 375.15 279.33 373.65 282.00 C372.15 284.67 371.50 287.00 370.65 290.00 C369.80 293.00 368.92 296.67 368.55 300.00 C368.18 303.33 368.23 306.67 368.45 310.00 C368.67 313.33 369.23 316.67 369.85 320.00 C370.47 323.33 371.05 326.67 372.15 330.00 C373.25 333.33 374.85 336.67 376.45 340.00 C378.05 343.33 379.62 346.67 381.75 350.00 C383.88 353.33 386.15 356.67 389.25 360.00 C392.35 363.33 396.95 367.17 400.35 370.00 C403.75 372.83 406.85 375.08 409.65 377.00 C412.45 378.92 414.82 380.25 417.15 381.50 C419.48 382.75 421.40 383.67 423.65 384.50 C425.90 385.33 427.82 386.03 430.65 386.50 C433.48 386.97 437.32 387.30 440.65 387.30 C443.98 387.30 447.82 386.97 450.65 386.50 C453.48 386.03 455.40 385.33 457.65 384.50 C459.90 383.67 461.82 382.75 464.15 381.50 C466.48 380.25 468.85 378.92 471.65 377.00 C474.45 375.08 477.55 372.83 480.95 370.00 C484.35 367.17 488.95 363.33 492.05 360.00 C495.15 356.67 497.42 353.33 499.55 350.00 C501.68 346.67 503.25 343.33 504.85 340.00 C506.45 336.67 508.05 333.33 509.15 330.00 C510.25 326.67 510.83 323.33 511.45 320.00 C512.07 316.67 512.63 313.33 512.85 310.00 C513.07 306.67 513.12 303.33 512.75 300.00 C512.38 296.67 511.50 293.00 510.65 290.00 C509.80 287.00 509.15 284.67 507.65 282.00 C506.15 279.33 504.15 277.33 501.65 274.00 C499.15 270.67 502.82 265.00 492.65 262.00 C482.48 259.00 457.98 256.00 440.65 256.00 C423.32 256.00 398.82 259.00 388.65 262.00 Z" fill="none" stroke="url(#egL)" stroke-width="0.8"/>
<path d="M374.00 253.00 C374.04 250.56 374.34 249.21 375.01 247.36 C375.68 245.50 376.70 243.65 378.02 241.88 C379.34 240.12 381.00 238.38 382.93 236.75 C384.86 235.12 387.11 233.55 389.59 232.11 C392.07 230.67 394.85 229.31 397.81 228.10 C400.76 226.89 403.98 225.79 407.32 224.85 C410.67 223.91 414.23 223.10 417.85 222.46 C421.48 221.82 425.28 221.32 429.08 220.99 C432.88 220.67 436.79 220.50 440.65 220.50 C444.51 220.50 448.42 220.67 452.22 220.99 C456.02 221.32 459.82 221.82 463.45 222.46 C467.07 223.10 470.63 223.91 473.97 224.85 C477.32 225.79 480.54 226.89 483.49 228.10 C486.45 229.31 489.23 230.67 491.71 232.11 C494.19 233.55 496.44 235.12 498.37 236.75 C500.30 238.38 501.96 240.12 503.28 241.88 C504.60 243.65 505.62 245.50 506.29 247.36 C506.96 249.21 507.25 250.39 507.30 253.00 C507.35 255.61 507.23 260.33 506.60 263.00 C505.97 265.67 504.77 267.33 503.50 269.00 C502.23 270.67 501.83 271.00 499.00 273.00 C496.17 275.00 492.17 278.87 486.50 281.00 C480.83 283.13 472.65 284.73 465.00 285.80 C457.35 286.87 448.77 287.40 440.60 287.40 C432.43 287.40 423.52 286.78 416.00 285.80 C408.48 284.82 401.17 283.72 395.50 281.50 C389.83 279.28 385.08 274.75 382.00 272.50 C378.92 270.25 378.20 269.75 377.00 268.00 C375.80 266.25 375.30 264.50 374.80 262.00 C374.30 259.50 373.96 255.44 374.00 253.00 Z" fill="#efefef"/>
<g clip-path="url(#c2rc)">
<path d="M403.20 260.80 C395.43 260.42 396.87 264.22 394.00 266.00 C391.13 267.78 387.83 270.17 386.00 271.50 C384.17 272.83 381.67 272.67 383.00 274.00 C384.33 275.33 388.50 277.58 394.00 279.50 C399.50 281.42 408.23 284.18 416.00 285.50 C423.77 286.82 432.43 287.40 440.60 287.40 C448.77 287.40 457.27 286.82 465.00 285.50 C472.73 284.18 481.42 281.42 487.00 279.50 C492.58 277.58 497.17 275.33 498.50 274.00 C499.83 272.67 496.92 272.83 495.00 271.50 C493.08 270.17 490.00 267.72 487.00 266.00 C484.00 264.28 484.73 260.82 477.00 261.20 C469.27 261.58 452.95 268.37 440.65 268.30 C428.35 268.23 410.97 261.18 403.20 260.80 Z" fill="#ebebeb"/>
<path d="M374.00 253.00 C374.04 250.56 374.34 249.21 375.01 247.36 C375.68 245.50 376.70 243.65 378.02 241.88 C379.34 240.12 381.00 238.38 382.93 236.75 C384.86 235.12 387.11 233.55 389.59 232.11 C392.07 230.67 394.85 229.31 397.81 228.10 C400.76 226.89 403.98 225.79 407.32 224.85 C410.67 223.91 414.23 223.10 417.85 222.46 C421.48 221.82 425.28 221.32 429.08 220.99 C432.88 220.67 436.79 220.50 440.65 220.50 C444.51 220.50 448.42 220.67 452.22 220.99 C456.02 221.32 459.82 221.82 463.45 222.46 C467.07 223.10 470.63 223.91 473.97 224.85 C477.32 225.79 480.54 226.89 483.49 228.10 C486.45 229.31 489.23 230.67 491.71 232.11 C494.19 233.55 496.44 235.12 498.37 236.75 C500.30 238.38 501.96 240.12 503.28 241.88 C504.60 243.65 505.62 245.50 506.29 247.36 C506.96 249.21 507.25 250.39 507.30 253.00 C507.35 255.61 507.23 260.33 506.60 263.00 C505.97 265.67 504.77 267.33 503.50 269.00 C502.23 270.67 501.83 271.00 499.00 273.00 C496.17 275.00 492.17 278.87 486.50 281.00 C480.83 283.13 472.65 284.73 465.00 285.80 C457.35 286.87 448.77 287.40 440.60 287.40 C432.43 287.40 423.52 286.78 416.00 285.80 C408.48 284.82 401.17 283.72 395.50 281.50 C389.83 279.28 385.08 274.75 382.00 272.50 C378.92 270.25 378.20 269.75 377.00 268.00 C375.80 266.25 375.30 264.50 374.80 262.00 C374.30 259.50 373.96 255.44 374.00 253.00 Z" fill="none" stroke="url(#egR)" stroke-width="6" filter="url(#bl15)"/>
<path d="M374 250 C378 262 381 270 388 279 L387 262 C386 257 388 255 392 253 C385 250 380 247 376 240 Z" fill="#b4b4b4" filter="url(#bl15)"/>
<path d="M507.29999999999995 250 C503.29999999999995 262 500.29999999999995 270 493.29999999999995 279 L494.29999999999995 262 C495.29999999999995 257 493.29999999999995 255 489.29999999999995 253 C496.29999999999995 250 501.29999999999995 247 505.29999999999995 240 Z" fill="#a8a8a8" filter="url(#bl15)"/>
<path d="M381.50 238.00 C380.35 240.63 375.43 249.47 374.60 253.80 C373.77 258.13 375.27 260.88 376.50 264.00 C377.73 267.12 381.08 271.08 382.00 272.50" fill="none" stroke="#a2a2a2" stroke-width="7" filter="url(#bl15)"/>
<path d="M499.80 238.00 C501.03 240.63 506.25 249.47 507.20 253.80 C508.15 258.13 506.87 260.80 505.50 264.00 C504.13 267.20 500.08 271.50 499.00 273.00" fill="none" stroke="#949494" stroke-width="7" filter="url(#bl15)"/>
<path d="M393 253.8 C387.5 256 384.3 259 384.3 263 C384.3 268 385 273 386.8 278" fill="none" stroke="#7e7e7e" stroke-width="3" filter="url(#bl1)"/>
<path d="M487.8 254 C492.5 256 495.3 259 495.3 263.5 C495.3 268 494.5 273 492.7 277.5" fill="none" stroke="#747474" stroke-width="3" filter="url(#bl1)"/>
<path d="M388.8 258 C388.4 264 388.5 269 389 274" fill="none" stroke="#dcdcdc" stroke-width="2" filter="url(#bl05)"/>
<path d="M491.6 258.5 C492 264 491.8 269 491 274" fill="none" stroke="#d4d4d4" stroke-width="2" filter="url(#bl05)"/>
<path d="M403.2 260.8 C397 261.5 393.5 266 390.5 276" fill="none" stroke="#989898" stroke-width="3" filter="url(#bl1)"/>
<path d="M477 261.2 C483.5 262 487 266.5 489.5 276" fill="none" stroke="#8c8c8c" stroke-width="3" filter="url(#bl1)"/>
<path d="M393 253.8 C397 256 400 258 403.2 260.8" fill="none" stroke="#fafafa" stroke-width="1.6" filter="url(#bl05)"/>
<path d="M487.8 254 C484 256 480.5 258.5 477 261.2" fill="none" stroke="#fafafa" stroke-width="1.6" filter="url(#bl05)"/>
<path d="M403.2 260.8 Q440.65 251.60 477 261.2 Q440.65 275.40 403.2 260.8 Z" fill="#f5f5f5"/>
<path d="M403.2 260.8 Q440.65 251.60 477 261.2" fill="none" stroke="#9a9a9a" stroke-width="1.3" filter="url(#bl05)"/>
<path d="M403.2 260.8 Q440.65 275.40 477 261.2" fill="none" stroke="#a6a6a6" stroke-width="1.4" filter="url(#bl05)"/>
<path d="M411.2 265.3 Q440.65 278.90 469 265.7" fill="none" stroke="#f9f9f9" stroke-width="1.6" filter="url(#bl05)"/>
<path d="M382.00 272.50 C384.25 274.00 389.83 279.28 395.50 281.50 C401.17 283.72 408.48 284.82 416.00 285.80 C423.52 286.78 432.43 287.40 440.60 287.40 C448.77 287.40 457.35 286.87 465.00 285.80 C472.65 284.73 480.83 283.13 486.50 281.00 C492.17 278.87 496.92 274.33 499.00 273.00" fill="none" stroke="#d4d4d4" stroke-width="2" filter="url(#bl1)"/>
</g>
<path d="M374.00 253.00 C374.04 250.56 374.34 249.21 375.01 247.36 C375.68 245.50 376.70 243.65 378.02 241.88 C379.34 240.12 381.00 238.38 382.93 236.75 C384.86 235.12 387.11 233.55 389.59 232.11 C392.07 230.67 394.85 229.31 397.81 228.10 C400.76 226.89 403.98 225.79 407.32 224.85 C410.67 223.91 414.23 223.10 417.85 222.46 C421.48 221.82 425.28 221.32 429.08 220.99 C432.88 220.67 436.79 220.50 440.65 220.50 C444.51 220.50 448.42 220.67 452.22 220.99 C456.02 221.32 459.82 221.82 463.45 222.46 C467.07 223.10 470.63 223.91 473.97 224.85 C477.32 225.79 480.54 226.89 483.49 228.10 C486.45 229.31 489.23 230.67 491.71 232.11 C494.19 233.55 496.44 235.12 498.37 236.75 C500.30 238.38 501.96 240.12 503.28 241.88 C504.60 243.65 505.62 245.50 506.29 247.36 C506.96 249.21 507.25 250.39 507.30 253.00 C507.35 255.61 507.23 260.33 506.60 263.00 C505.97 265.67 504.77 267.33 503.50 269.00 C502.23 270.67 501.83 271.00 499.00 273.00 C496.17 275.00 492.17 278.87 486.50 281.00 C480.83 283.13 472.65 284.73 465.00 285.80 C457.35 286.87 448.77 287.40 440.60 287.40 C432.43 287.40 423.52 286.78 416.00 285.80 C408.48 284.82 401.17 283.72 395.50 281.50 C389.83 279.28 385.08 274.75 382.00 272.50 C378.92 270.25 378.20 269.75 377.00 268.00 C375.80 266.25 375.30 264.50 374.80 262.00 C374.30 259.50 373.96 255.44 374.00 253.00 Z" fill="none" stroke="#b4b4b4" stroke-width="0.7"/>
<path d="M381.50 238.00 C380.35 240.63 375.43 249.47 374.60 253.80 C373.77 258.13 375.27 260.88 376.50 264.00 C377.73 267.12 381.08 271.08 382.00 272.50" fill="none" stroke="#8c8c8c" stroke-width="0.9"/>
<path d="M499.80 238.00 C501.03 240.63 506.25 249.47 507.20 253.80 C508.15 258.13 506.87 260.80 505.50 264.00 C504.13 267.20 500.08 271.50 499.00 273.00" fill="none" stroke="#858585" stroke-width="0.9"/>
<path d="M374.00 253.00 C374.17 252.06 374.34 249.21 375.01 247.36 C375.68 245.50 376.70 243.65 378.02 241.88 C379.34 240.12 381.00 238.38 382.93 236.75 C384.86 235.12 387.11 233.55 389.59 232.11 C392.07 230.67 394.85 229.31 397.81 228.10 C400.76 226.89 403.98 225.79 407.32 224.85 C410.67 223.91 414.23 223.10 417.85 222.46 C421.48 221.82 425.28 221.32 429.08 220.99 C432.88 220.67 436.79 220.50 440.65 220.50 C444.51 220.50 448.42 220.67 452.22 220.99 C456.02 221.32 459.82 221.82 463.45 222.46 C467.07 223.10 470.63 223.91 473.97 224.85 C477.32 225.79 480.54 226.89 483.49 228.10 C486.45 229.31 489.23 230.67 491.71 232.11 C494.19 233.55 496.44 235.12 498.37 236.75 C500.30 238.38 501.96 240.12 503.28 241.88 C504.60 243.65 505.62 245.50 506.29 247.36 C506.96 249.21 507.13 252.06 507.30 253.00" fill="none" stroke="#acacac" stroke-width="0.9"/>
</g>
<text x="402" y="615" font-size="17" font-style="italic" font-weight="bold" style="fill:#e1e1e1;stroke:none" transform="rotate(7.5 402 615)" textLength="44" lengthAdjust="spacingAndGlyphs">20ml</text>
<path d="M388.5 603.5 L399 608" stroke="#e2e2e2" stroke-width="3.5" stroke-linecap="round"/>
<path d="M482.3 599.5 l5.8 2 M482.7 602.9 l5.4 1.7" stroke="#c6c6c6" stroke-width="0.9" stroke-linecap="round"/>
</g>
<g stroke="#fff" stroke-width="4.5" stroke-linecap="round" fill="none" opacity="0.9">
<path d="M499.9 289.3 L629.3 311.5"/>
<path d="M409 319.4 L168.6 432.3 L416.8 601.2"/>
<path d="M291.3 757.2 L405.8 677.6"/>
<path d="M443 751.75 L629.25 645.5"/>
</g>
<g stroke="#0a0d40" stroke-width="1.9" stroke-linecap="butt" stroke-linejoin="miter" fill="none">
<path d="M499.9 289.3 L629.3 311.5"/>
<path d="M409 319.4 L168.6 432.3 L416.8 601.2"/>
<path d="M291.3 757.2 L405.8 677.6"/>
<path d="M443 751.75 L629.25 645.5"/>
</g>
<text x="209.00" y="96.80" font-size="48" font-weight="bold" textLength="220.20" lengthAdjust="spacingAndGlyphs" style="fill:#181d4e;stroke:#181d4e;stroke-width:1.1px">PRODUCT</text>
<text x="446.25" y="96.80" font-size="48" font-weight="bold" textLength="224.75" lengthAdjust="spacingAndGlyphs" style="fill:#181d4e;stroke:#181d4e;stroke-width:1.1px">FEATURES</text>
<text x="49.50" y="323.60" font-size="32" font-weight="normal" textLength="139.50" lengthAdjust="spacingAndGlyphs">15 ml and</text>
<text x="50.50" y="362.00" font-size="32" font-weight="normal" textLength="135.00" lengthAdjust="spacingAndGlyphs">20 ml ca-</text>
<text x="49.50" y="400.50" font-size="32" font-weight="normal" textLength="123.30" lengthAdjust="spacingAndGlyphs">pacity to</text>
<text x="50.50" y="438.70" font-size="32" font-weight="normal" textLength="107.10" lengthAdjust="spacingAndGlyphs">support</text>
<text x="49.50" y="476.90" font-size="32" font-weight="normal" textLength="116.10" lengthAdjust="spacingAndGlyphs">levels of</text>
<text x="49.50" y="515.50" font-size="32" font-weight="normal" textLength="138.00" lengthAdjust="spacingAndGlyphs">menstrual</text>
<text x="51.50" y="554.00" font-size="32" font-weight="normal" textLength="58.50" lengthAdjust="spacingAndGlyphs">flow</text>
<text x="645.00" y="283.60" font-size="32" font-weight="normal" textLength="123.80" lengthAdjust="spacingAndGlyphs">safe leak</text>
<text x="644.00" y="321.80" font-size="32" font-weight="normal" textLength="185.20" lengthAdjust="spacingAndGlyphs">protection up</text>
<text x="646.00" y="360.00" font-size="32" font-weight="normal" textLength="153.20" lengthAdjust="spacingAndGlyphs">to 12 hours</text>
<text x="644.50" y="612.30" font-size="32" font-weight="normal" textLength="120.40" lengthAdjust="spacingAndGlyphs">practical</text>
<text x="644.50" y="650.40" font-size="32" font-weight="normal" textLength="143.40" lengthAdjust="spacingAndGlyphs">handle for</text>
<text x="645.50" y="688.60" font-size="32" font-weight="normal" textLength="185.30" lengthAdjust="spacingAndGlyphs">easy removal</text>
<text x="49.30" y="727.60" font-size="32" font-weight="normal" textLength="184.70" lengthAdjust="spacingAndGlyphs">hygienic, soft</text>
<text x="50.30" y="765.30" font-size="32" font-weight="normal" textLength="223.70" lengthAdjust="spacingAndGlyphs">surface made of</text>
<text x="49.30" y="802.70" font-size="32" font-weight="normal" textLength="220.60" lengthAdjust="spacingAndGlyphs">medical silicone</text>
</svg>
</body></html>
